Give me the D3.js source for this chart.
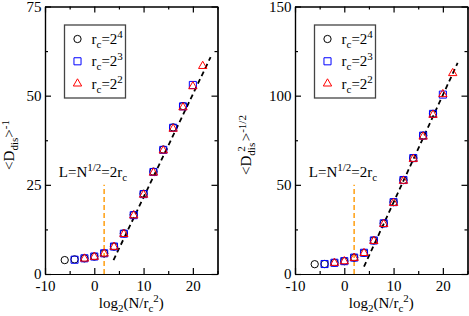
<!DOCTYPE html>
<html>
<head>
<meta charset="utf-8">
<script src="https://cdn.jsdelivr.net/npm/d3@7/dist/d3.min.js"></script>
<style>
    body { margin: 0; background: #fff; }
    svg { display: block; }
</style>
</head>
<body>
<svg id="chart" width="469" height="316" font-family="'Liberation Serif', 'Times New Roman', 'DejaVu Serif', serif"></svg>
<script>
    'use strict';

    // x positions, log2(N/rc^2)
    var circleX = [-6, -4, -2, 0, 2, 4, 6, 8, 10, 12, 14, 16, 18],
        squareX = [-4, -2, 0, 2, 4, 6, 8, 10, 12, 14, 16, 18, 20],
        triangleX = [-2, 0, 2, 4, 6, 8, 10, 12, 14, 16, 18, 20, 22];

    // left panel, <D_dis>^-1
    var leftCircle = [3.9, 4.1, 4.4, 4.9, 5.8, 7.7, 11.4, 16.6, 22.5, 28.7, 34.9, 41.1, 47.1],
        leftSquare = [4.0, 4.4, 4.9, 5.8, 7.7, 11.3, 16.5, 22.4, 28.6, 34.8, 41.0, 47.0, 53.0],
        leftTriangle = [4.3, 4.8, 5.7, 7.6, 11.2, 16.4, 22.2, 28.4, 34.6, 40.7, 46.7, 52.6, 58.3],
        leftFit = [[3.9, 3.9], [23.6, 60.8]];

    // right panel, <D_dis^2>^-1/2
    var rightCircle = [5.5, 5.6, 6.3, 7.2, 9.2, 11.8, 18.8, 28.4, 40.3, 52.7, 65.0, 77.6, 89.8],
        rightSquare = [5.6, 6.3, 7.2, 9.2, 11.9, 18.8, 28.4, 40.3, 52.7, 65.0, 77.6, 89.8, 100.6],
        rightTriangle = [6.2, 7.1, 9.0, 11.7, 18.5, 28.0, 39.8, 52.2, 64.5, 77.0, 89.2, 100.8, 112.6],
        rightFit = [[4.0, 4.1], [23.0, 118.4]];

    var xTicks = [-10, 0, 10, 20],
        xMinor = [-5, 5, 15, 25],
        leftYTicks = [0, 25, 50, 75],
        leftYMinor = [12.5, 37.5, 62.5],
        rightYTicks = [0, 50, 100, 150],
        rightYMinor = [25, 75, 125];

    var legendExp = ['4', '3', '2'],
        crossX = 2;

    var svg = d3.select('#chart'),
        plotTop = 6.5,
        plotBottom = 274,
        plotWidth = 172.5;

    function series(xs, ys) {
        return xs.map(function (d, i) { return [d, ys[i]]; });
    }

    function addParts(sel, parts) {
        parts.forEach(function (p) {
            var t = sel.append('tspan').text(p.t);
            if (p.size) { t.attr('font-size', p.size); }
            if (p.dy) { t.attr('dy', p.dy); }
            if (p.dx) { t.attr('dx', p.dx); }
        });
    }

    function styleAxis(g, labels) {
        g.attr('font-family', null).attr('font-size', null);
        g.selectAll('path, line').attr('stroke', '#000').attr('stroke-width', 1.2);
        g.selectAll('text').attr('font-size', 15).attr('fill', '#000');
        if (!labels) { g.selectAll('text').remove(); }
    }

    function drawPanel(opts) {
        var x = d3.scaleLinear().domain([-10, 25]).range([opts.left, opts.left + plotWidth]),
            y = d3.scaleLinear().domain([0, opts.yMax]).range([plotBottom, plotTop]),
            g = svg.append('g'),
            line = d3.line().x(function (d) { return x(d[0]); }).y(function (d) { return y(d[1]); });

        // frame with inward ticks
        g.append('g').attr('transform', 'translate(0,' + plotBottom + ')')
            .call(d3.axisBottom(x).tickValues(xTicks).tickSize(-6).tickSizeOuter(0).tickPadding(6).tickFormat(String))
            .call(styleAxis, true);
        g.append('g').attr('transform', 'translate(0,' + plotBottom + ')')
            .call(d3.axisBottom(x).tickValues(xMinor).tickSize(-3).tickSizeOuter(0))
            .call(styleAxis, false);
        g.append('g').attr('transform', 'translate(0,' + plotTop + ')')
            .call(d3.axisTop(x).tickValues(xTicks).tickSize(-6).tickSizeOuter(0))
            .call(styleAxis, false);
        g.append('g').attr('transform', 'translate(0,' + plotTop + ')')
            .call(d3.axisTop(x).tickValues(xMinor).tickSize(-3).tickSizeOuter(0))
            .call(styleAxis, false);
        g.append('g').attr('transform', 'translate(' + x.range()[0] + ',0)')
            .call(d3.axisLeft(y).tickValues(opts.yTicks).tickSize(-6).tickSizeOuter(0).tickPadding(3.5).tickFormat(String))
            .call(styleAxis, true);
        g.append('g').attr('transform', 'translate(' + x.range()[0] + ',0)')
            .call(d3.axisLeft(y).tickValues(opts.yMinor).tickSize(-3).tickSizeOuter(0))
            .call(styleAxis, false);
        g.append('g').attr('transform', 'translate(' + x.range()[1] + ',0)')
            .call(d3.axisRight(y).tickValues(opts.yTicks).tickSize(-6).tickSizeOuter(0))
            .call(styleAxis, false);
        g.append('g').attr('transform', 'translate(' + x.range()[1] + ',0)')
            .call(d3.axisRight(y).tickValues(opts.yMinor).tickSize(-3).tickSizeOuter(0))
            .call(styleAxis, false);

        // crossover marker L = 2 rc
        g.append('line')
            .attr('x1', x(crossX)).attr('x2', x(crossX))
            .attr('y1', y(0)).attr('y2', y(opts.crossTop))
            .attr('stroke', '#ffa51f')
            .attr('stroke-width', 1.6)
            .attr('stroke-dasharray', '5,3');

        addParts(g.append('text').attr('x', x(-7.2)).attr('y', 176.5).attr('font-size', 15), [
            {t: 'L=N'}, {t: '1/2', size: 11, dy: -6}, {t: '=2r', dy: 6}, {t: 'c', size: 11, dy: 4}
        ]);

        // fit line
        g.append('path')
            .attr('d', line(opts.fit))
            .attr('fill', 'none')
            .attr('stroke', '#000')
            .attr('stroke-width', 1.8)
            .attr('stroke-dasharray', '5,3.5');

        var marks = [
            {data: series(circleX, opts.circle), type: d3.symbolCircle, size: 42, color: '#000'},
            {data: series(squareX, opts.square), type: d3.symbolSquare, size: 50, color: '#0000ff'},
            {data: series(triangleX, opts.triangle), type: d3.symbolTriangle, size: 30, color: '#ff0000'}
        ];

        marks.forEach(function (m) {
            g.append('g').selectAll('path')
                .data(m.data)
                .enter()
                .append('path')
                .attr('transform', function (d) { return 'translate(' + x(d[0]) + ',' + y(d[1]) + ')'; })
                .attr('d', d3.symbol().type(m.type).size(m.size))
                .attr('fill', 'none')
                .attr('stroke', m.color)
                .attr('stroke-width', 1);
        });

        // legend
        var lx = x.range()[0] + 19.5,
            legend = g.append('g').attr('transform', 'translate(' + lx + ',25)');

        legend.append('rect')
            .attr('width', 61).attr('height', 73)
            .attr('fill', '#fff')
            .attr('stroke', '#444')
            .attr('stroke-width', 1.3);

        marks.forEach(function (m, i) {
            var row = legend.append('g').attr('transform', 'translate(0,' + (14 + i * 22.3) + ')');
            row.append('path')
                .attr('transform', 'translate(13,0)')
                .attr('d', d3.symbol().type(m.type).size(m.size))
                .attr('fill', 'none')
                .attr('stroke', m.color)
                .attr('stroke-width', 1);
            addParts(row.append('text').attr('x', 27).attr('y', 5).attr('font-size', 15), [
                {t: 'r'}, {t: 'c', size: 11, dy: 4}, {t: '=2', dy: -4}, {t: legendExp[i], size: 11, dy: -6}
            ]);
        });

        // axis titles
        addParts(g.append('text')
            .attr('x', (x.range()[0] + x.range()[1]) / 2)
            .attr('y', 307.5)
            .attr('text-anchor', 'middle')
            .attr('font-size', 15), [
            {t: 'log'}, {t: '2', size: 11, dy: 4}, {t: '(N/r', dy: -4}, {t: 'c', size: 11, dy: 4},
            {t: '2', size: 11, dy: -10}, {t: ')', dy: 6}
        ]);

        addParts(g.append('text')
            .attr('transform', 'translate(' + opts.titleX + ',145) rotate(-90)')
            .attr('text-anchor', 'middle')
            .attr('font-size', 15), opts.title);
    }

    drawPanel({
        left: 45,
        yMax: 75,
        yTicks: leftYTicks,
        yMinor: leftYMinor,
        circle: leftCircle,
        square: leftSquare,
        triangle: leftTriangle,
        fit: leftFit,
        crossTop: 25,
        titleX: 14,
        title: [{t: '<D'}, {t: 'dis', size: 11, dy: 4}, {t: '>', dy: -4}, {t: '-1', size: 11, dy: -5}]
    });

    drawPanel({
        left: 295,
        yMax: 150,
        yTicks: rightYTicks,
        yMinor: rightYMinor,
        circle: rightCircle,
        square: rightSquare,
        triangle: rightTriangle,
        fit: rightFit,
        crossTop: 50,
        titleX: 251,
        title: [{t: '<D'}, {t: 'dis', size: 11, dy: 4}, {t: '2', size: 11, dx: -9, dy: -10},
            {t: '>', dx: 5, dy: 6}, {t: '-1/2', size: 11, dy: -5}]
    });
</script>
</body>
</html>
